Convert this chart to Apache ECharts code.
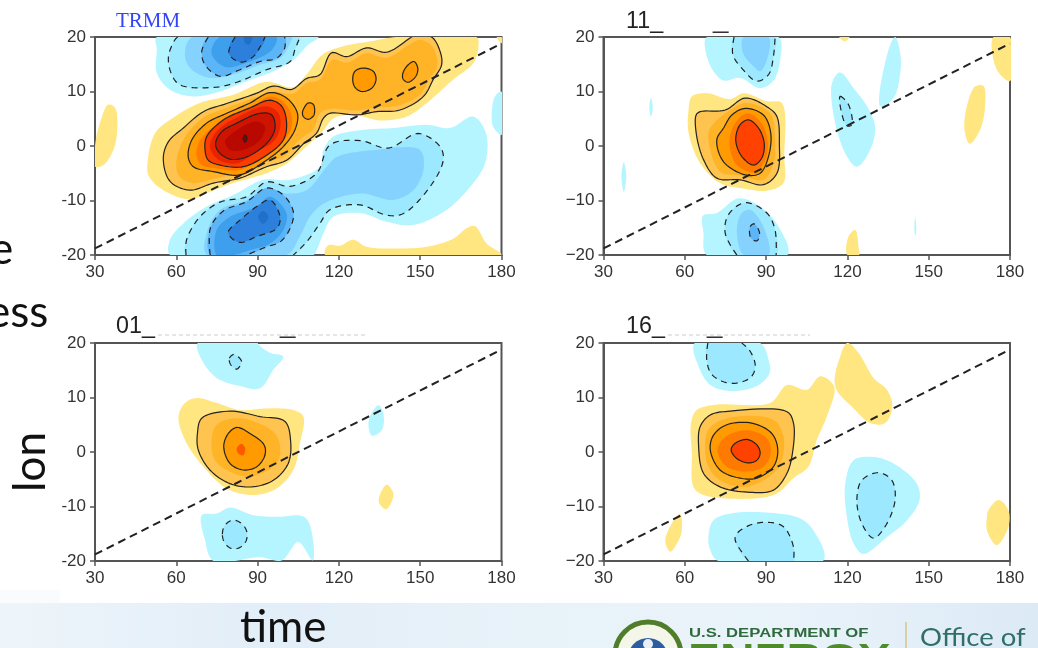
<!DOCTYPE html>
<html><head><meta charset="utf-8">
<style>html,body{margin:0;padding:0;background:#fff}#c{width:1038px;height:648px;filter:blur(0.55px)}</style>
<script src="https://cdn.jsdelivr.net/npm/echarts@6/dist/echarts.min.js"></script></head>
<body><div id="c"></div><script>
const timeTicks=[30,60,90,120,150,180];
const lonTicks=[-20,-10,0,10,20];
const refLine=[[30,-18.8],[180,18.8]];

// ---- TRMM contours, [time, lon]
const a_y1=[[49.3,-4.4],[52.1,2.3],[59.5,5.4],[68.7,7.9],[81,9.4],[93.3,11.8],[103,10.8],[108,13.1],[114,16.8],[121.6,18.3],[131.5,19.2],[141.3,20],[170.8,20],[171.5,18.3],[169.6,15.2],[162.2,12.2],[152.4,7.9],[145,5.4],[135.2,4.7],[125.3,5.7],[118,5.1],[114.3,2.9],[108,-0.1],[100.7,-3.2],[93.3,-5],[81,-6.8],[72.4,-8.4],[65,-9.8],[55.2,-8.1],[50.3,-5.9]];
const a_y2=[[30,0],[31.8,4.2],[34.9,7.6],[37.4,7],[38.2,2.9],[36.8,-0.7],[33.1,-3.5],[30,-3.8]];
const a_y3=[[114.9,-20],[116.1,-18.2],[120.4,-18.3],[125.3,-17.2],[130.2,-18.5],[140,-18.8],[152.4,-18.5],[162.2,-17],[167.1,-15.1],[170.2,-14.7],[174.5,-17.9],[180,-20]];
const a_y4=[[178.2,20],[180,20],[180,18.8]];
const a_c1=[[55.2,-2.3],[57.1,0.8],[62.6,3.3],[70,6.3],[78.6,7.8],[89.7,9.7],[95.8,11],[102.6,10.4],[108.1,12.4],[113,13.1],[117.3,17.1],[122.9,16.4],[130.2,18],[137.6,17.2],[146.2,19.8],[148,20.3],[154.2,20],[157.3,17.4],[157.9,14.9],[154.8,12.2],[151.2,9.1],[142.5,6.6],[133.9,6.3],[126.6,5.7],[116.7,6],[114.3,5.1],[111.8,2.4],[106.9,0.4],[100.7,-2.6],[93.3,-3.8],[83.5,-5.9],[73.7,-6.8],[65,-8.1],[57.7,-6.5]];
const a_g=[[60,-3],[63,1.5],[70,5.2],[78.6,7],[89.7,9],[96,10],[103,9.6],[108,11.5],[113,12.2],[117.5,15.8],[123,15.3],[130,17],[137.6,16.2],[146,18.6],[150,19.5],[154,18.5],[156,16.5],[156.2,14.5],[153,12],[150,9.5],[142,7.4],[134,7.1],[126.6,6.5],[117,6.8],[113,6],[110.5,3],[105.5,1.2],[100,-1.8],[93,-3],[83,-5],[74,-6],[66,-6.8],[61,-5.5]];
const a_c2=[[64.4,-2],[65.7,1.1],[71.2,4.2],[78.6,6],[87.2,7.9],[94.6,9.8],[100.7,8.8],[104.7,6],[103.8,3],[99.5,-0.1],[93.3,-2.6],[83.5,-5.3],[73.7,-4.7],[66.3,-3.8]];
const a_l4=[[67.5,-1.9],[68.5,0.8],[73.1,3.3],[79.8,5.4],[88.4,7.4],[94.6,9.1],[99.7,8],[102.6,5.4],[102,2.7],[97.7,0.2],[92.1,-1.9],[83.5,-4.4],[74.9,-4.1],[69.4,-3.5]];
const a_c3=[[70.6,-0.7],[71.2,1.7],[77.4,4.8],[87.2,7],[94.6,8.4],[98.9,7.3],[100.7,4.2],[99.5,1.1],[93.3,-1.7],[84.7,-3.8],[76.1,-3.5],[71.8,-2.6]];
const a_l7=[[72.4,-0.1],[74.9,2.7],[84.1,5.7],[93.3,7.3],[97.7,6],[98.3,3.3],[95.8,0.8],[89.7,-1],[82.3,-3.2],[75.5,-2.5]];
const a_c4=[[74.5,0.5],[76.7,2.6],[82.3,4.2],[90.9,6],[95.2,5.7],[96.4,3.2],[93.4,0.5],[86,-2],[79.8,-2.4],[75.5,-1]];
const a_i4=[[78,0.8],[82.3,2.9],[89.7,4.5],[92.7,3.5],[90.9,1.1],[84.7,-0.7],[79.8,-0.7]];
const a_c5=[[84.7,1.4],[85.4,2],[86.1,1.4],[85.4,0.7]];
const a_s1=[[106.6,6.3],[108.7,7.9],[110.6,7.6],[110.8,5.7],[108.7,4.9],[106.9,5.4]];
const a_s2=[[125.1,12.2],[125.9,13.7],[129,14.3],[132.7,13.7],[133.7,12.2],[132.1,10.6],[128.4,10],[125.9,10.8]];
const a_s3=[[143.5,13.1],[145,14.6],[147.7,15.5],[149.1,14.3],[148.4,12.8],[145.6,11.7],[143.8,12.2]];
const a_n1=[[52.8,20],[52.8,17.7],[52.8,13.4],[57.7,10.3],[66.3,9.1],[76.1,10],[85.9,11.9],[95.8,13.7],[103.2,15.8],[108.7,18.6],[112.4,20]];
const a_n2=[[60.5,20],[59.5,19.5],[57.1,16.4],[58.3,13.1],[61.4,11.2],[74.9,10.8],[83.5,11.9],[93.3,14],[102,15.5],[103.8,17.7],[105.6,20]];
const a_n3=[[65.7,20],[63.2,16.4],[65.7,14],[72.4,12.5],[81,13.1],[90.9,14.9],[98.3,16.1],[102,18.9],[102.6,20]];
const a_n4=[[71.8,20],[69.4,17.4],[70.6,14.9],[76.1,12.8],[83.5,14],[90.9,15.5],[97,16.1],[100,18],[100,20]];
const a_n5=[[76,20],[73,17],[78,14.5],[86,15.3],[95,17.5],[97,20]];
const a_n6=[[81.7,20],[79.4,17],[83.5,15.4],[88.4,16.4],[92.7,20]];
const a_n7=[[85,20],[85.5,18.8],[86.8,18.6],[88,20]];
const a_b1=[[57.7,-20],[57.7,-17.2],[62.6,-14.2],[71.2,-11.1],[81,-9],[92.1,-6.2],[102,-6.2],[113,-3.8],[114.3,-0.7],[117.9,1.7],[127.8,2.9],[140.1,3.3],[152.4,3.9],[161,3.3],[169.6,5.4],[174.3,2.3],[173.9,-3.2],[168.4,-7.5],[159.8,-11.7],[147.5,-14.5],[137.6,-13.9],[127.8,-12.3],[117.9,-13],[114.3,-16],[111.8,-19.1],[110.6,-20]];
const a_b2=[[63.6,-20],[63.8,-17.2],[68.7,-13],[76.1,-10.3],[86,-9.3],[93.3,-6.6],[102,-7.4],[111.8,-5],[116.7,0.2],[127.8,1],[138.2,-0.4],[149.3,2.3],[157.3,-0.1],[158.5,-2.6],[153.6,-7.5],[143.8,-12.4],[137.6,-12.7],[127.8,-10.8],[116.7,-11.7],[113,-14.2],[108.1,-17.6],[103.2,-20]];
const a_b3=[[71.2,-20],[71.2,-16],[76.1,-11.7],[86,-9.9],[93.3,-7.8],[100.7,-8.7],[108.1,-8.1],[115.5,-3.8],[119.2,-2],[133.9,-0.7],[149.9,-0.7],[151.2,-4.4],[147.5,-8.1],[140.1,-9.9],[127.8,-8.7],[114.3,-10.6],[109.3,-13],[105.6,-16.6],[100.7,-20]];
const a_b4=[[72.5,-20],[72.6,-15],[77.4,-11.9],[86,-10.2],[93.3,-7.7],[99.5,-9],[103.2,-12.1],[102,-15.1],[98.3,-17.6],[93.3,-18.5],[86,-20]];
const a_b5=[[74.9,-20],[74.9,-15.4],[79.8,-13],[89.7,-11.1],[94.6,-9.3],[100.7,-12.4],[99.5,-15.4],[94.6,-17.9],[87.2,-19.1],[81,-20]];
const a_b6=[[79.2,-15.7],[83.5,-13.6],[89.7,-11.1],[94.6,-9.9],[98.3,-13],[97.1,-15.1],[89.7,-16.6],[83.5,-17.7],[79.8,-16.6]];
const a_b7=[[90.2,-13],[92,-11.9],[94,-13],[92,-14.3]];
const a_r1=[[180,10],[177.6,9.1],[176.4,6],[176.9,3.6],[180,2]];

// ---- panel 11_
const b_t1=[[68.1,20],[67.8,17.1],[70.6,13.7],[74.3,12],[80.4,12.5],[87.8,10.6],[92.7,12],[95.2,15.8],[94.6,20]];
const b_t2=[[78.2,20],[77.7,16.8],[81,14.3],[86.6,11.9],[90.9,13.1],[92.7,16.4],[93.3,20]];
const b_t3=[[81.7,20],[81.4,17.1],[85.4,14.6],[87.8,13.7],[90.3,15.8],[90.9,20]];
const b_q1=[[47.5,8.8],[48.2,7],[47.5,5.4],[46.9,7]];
const b_q2=[[37.5,-3],[38.4,-5.5],[37.5,-8.4],[36.6,-5.5]];
const b_q3=[[145,-13],[145.4,-15.5],[145,-16.5],[144.7,-15]];
const b_m1=[[114.3,11.5],[117.3,13.5],[122.3,10.6],[127.2,7.3],[130.2,3.6],[128.4,-0.7],[123.5,-3.8],[119.8,-1.9],[115.5,4.2]];
const b_m2=[[137.6,20],[135.2,17.7],[132.1,7.3],[137,8.8],[139.5,13.4],[139.5,17]];
const b_m3=[[117.3,9.1],[120.4,7.6],[121.6,3.9],[119.8,3.7],[117.9,6]];
const b_y1=[[117,20],[119,19.2],[120.8,20]];
const b_y2=[[173.9,20],[173.9,15.8],[176.4,13.1],[180,11.9],[180,20]];
const b_y3=[[167.1,10.9],[170.2,11],[170.8,7.3],[169,3],[165.1,0.4],[163.2,3],[164.1,7.3]];
const b_y4=[[120,-20],[120.4,-16.6],[122.9,-15.4],[124.1,-18.5],[124.3,-20]];
const b_y5=[[61.4,6.7],[62.6,9.1],[68.1,9.7],[76.7,8.6],[81.7,9.7],[90.3,8.2],[95.8,7.9],[96.7,-1.9],[96.4,-6.8],[90.3,-8.2],[82.9,-7.9],[73,-6.8],[65.7,-3.2],[61.4,2.4]];
const b_c1=[[64.2,5.7],[65.7,6.3],[74.9,6.6],[82.3,8.8],[90.9,7],[94,5.4],[94.9,0.5],[94,-5],[89,-7.1],[80.4,-6.2],[71.8,-5.9],[66.9,-2.5],[64.2,2.4]];
const b_l1=[[68.7,1.1],[69.4,3.3],[76.7,6.6],[82.9,7.9],[91.5,6],[93.3,1.1],[92.7,-3.2],[89,-6.2],[80.4,-5.4],[73,-4.7]];
const b_c2=[[71.8,1.1],[74.3,3.3],[77.4,5.7],[82.3,6.9],[89,5.7],[91.7,2.4],[90.9,-1.9],[87.8,-5],[82.3,-5.3],[74.3,-2.9]];
const b_l2=[[76.5,0.5],[78.2,3.9],[82.9,6],[87.8,4.5],[90.5,1.1],[89.7,-2.5],[85.9,-4.8],[79.2,-3.5]];
const b_c3=[[78.8,1.1],[80.4,3.9],[83.5,4.8],[87.2,3.3],[89.3,0.5],[88.4,-2.2],[85.4,-3.5],[81,-1.9]];
const b_n1=[[66.7,-12.8],[71.8,-12.3],[79.8,-9.6],[87.8,-11.1],[94.6,-14.8],[97.9,-20],[68.1,-20],[66.9,-16]];
const b_n2=[[79.2,-20],[74.9,-16],[76.1,-12.6],[82.3,-10.4],[90.3,-12.3],[93.3,-15.4],[93.7,-20]];
const b_n3=[[79.2,-15.4],[81,-12.3],[84.1,-11.7],[89,-14.8],[90.9,-20],[81.7,-20]];
const b_n4=[[84.1,-14.8],[85.6,-14.3],[87.6,-16],[86.6,-17.4],[84.4,-16.9]];

// ---- panel 01_
const c_t1=[[67.9,20],[69.4,16.9],[74.9,13.6],[83.5,12.1],[90.9,11.7],[95.8,15.1],[99.5,17.5],[94.6,18.2],[90.3,19.7],[90,20]];
const c_t2=[[79.6,17.2],[81.3,17.9],[84.1,16.6],[82.3,15.2],[80.1,16]];
const c_y1=[[60.8,6.5],[63.2,9],[67.5,9.9],[74.9,9],[83.5,7.7],[93.3,8],[103.2,7.7],[106.9,6.5],[105.6,1.6],[103.2,-3.3],[97,-6.7],[88.4,-7.9],[78.6,-6.7],[70,-2.7],[63.2,2.2]];
const c_c1=[[67.8,3.4],[69.4,6.2],[79.8,7.5],[90.9,6.5],[100.1,5.6],[102.2,1.9],[101.3,-2.1],[95.8,-5.2],[87.8,-6.4],[79.8,-5.8],[72.4,-3.3],[68.1,0.4]];
const c_l1=[[73,1.6],[74.9,5],[83.5,6.2],[95.8,3.7],[98.3,1],[97,-2.1],[87.2,-4.5],[78.6,-3.3],[74.3,-1.5]];
const c_c2=[[77.5,1],[79.2,3.4],[82.3,4.5],[87.2,3.4],[92.4,1.3],[92.7,-0.6],[89.7,-2.7],[84.7,-3.3],[79.8,-2.1]];
const c_c3=[[82.3,0.7],[84.1,1.5],[85.4,0.7],[84.7,-0.6],[82.9,-0.3]];
const c_y2=[[134.9,-8.2],[137.6,-6],[140.1,-7.6],[139.5,-9.1],[137.4,-10.5],[134.9,-9.4]];
const c_n1=[[134.6,8.6],[136.4,7.1],[135.8,4],[132.1,3],[130.9,5.3],[132.1,7.1]];
const c_b1=[[69.4,-11.6],[74.9,-11.3],[79.8,-10.2],[88.4,-11.6],[97,-11.9],[107.5,-12],[110.6,-16.8],[110.3,-19.9],[105,-16.5],[98.9,-19.9],[90.9,-19.3],[73.7,-20],[70.6,-16.2]];
const c_b2=[[77,-15.1],[78,-13.4],[81,-12.5],[84.7,-13.4],[86.2,-15.3],[84.7,-17.1],[81,-17.8],[78,-16.8]];

// ---- panel 16_
const d_t1=[[63.6,20],[65.1,15.7],[69.4,12.3],[76.7,11.2],[86.6,12.1],[91.3,14.5],[90.9,16.9],[87.8,20]];
const d_t2=[[68.5,20],[68.1,16.9],[70,14.2],[76.7,12.6],[84.1,13.6],[86,15.7],[84.1,18.5],[81,20]];
const d_y1=[[62.3,5.3],[64.4,7.7],[71.8,8.7],[91.5,9],[97.7,12.3],[105,11.4],[110,13.9],[115.1,12],[112.4,6.5],[108.7,2.2],[105.6,-2.7],[100.1,-4.8],[94,-7.6],[86.6,-8.5],[66.9,-7.9],[63.2,-6.4],[62.6,-0.2]];
const d_y2=[[120,20],[124.1,18.2],[129.6,13.6],[134.6,11.4],[136.6,8.3],[133.9,5.3],[128.4,5.3],[122.3,8],[115.5,12],[117.3,17.5]];
const d_y3=[[56.4,-12.2],[58.3,-11.4],[58.9,-14.4],[57.1,-16.8],[54.6,-18.3],[52.8,-16.2]];
const d_y4=[[172,-10.7],[175.8,-8.8],[179.4,-10.7],[179.4,-13.7],[175.1,-17.1],[171.5,-14.4],[171.5,-11.9]];
const d_c1=[[65.1,1],[65.7,4.7],[69.4,6.8],[76.7,7.5],[97.7,7.4],[100.1,5.3],[99.9,0.4],[97.7,-3.9],[92.7,-7],[84.1,-7.4],[73,-6.4],[66.9,-3.9]];
const d_l1=[[67.5,0.4],[68.7,4.1],[75.5,6.2],[92.7,5.9],[96.4,2.8],[95.8,-1.5],[92.7,-3.9],[82.9,-6.4],[73,-5.2],[68.7,-2.7]];
const d_c2=[[69.4,0.4],[70.6,3.1],[75.5,5],[84.7,5.3],[92.1,3.4],[94.3,0.4],[92.7,-2.7],[86.6,-4.8],[80.4,-4.8],[73,-3.3]];
const d_l2=[[72.1,0.1],[74.3,2.5],[82.9,4],[90.3,2.5],[91.7,-0.2],[89,-2.7],[82.9,-3.6],[75.5,-2.7]];
const d_c3=[[77.1,0.4],[78.6,1.6],[82.9,2.3],[86.6,1.3],[87.8,-0.2],[86.6,-1.5],[83.5,-2],[79.2,-1.2]];
const d_b1=[[68.7,-15.6],[70.6,-12.5],[78,-11.2],[92.7,-11.2],[102.6,-12.2],[107.5,-14.4],[111.2,-19.9],[72.4,-20],[69.4,-18]];
const d_b2=[[83.5,-20],[78.6,-16.2],[79.2,-15],[84.1,-13.4],[90.3,-12.9],[96.4,-13.7],[100.1,-17.4],[100.1,-20]];
const d_e1=[[119.2,-5.8],[122.3,-1.5],[129.6,-0.9],[137,-2.1],[145.6,-5.8],[146.6,-8.8],[141.9,-12.6],[134.6,-15.6],[125.9,-18.7],[122.3,-16.8],[119.8,-11.9]];
const d_e2=[[123.5,-8.8],[125.3,-5.2],[131.5,-3.8],[136.4,-5.2],[137.6,-8.8],[133.9,-13.7],[129.6,-15.8],[125.3,-13.1]];

// colour shades
const Y='#FFE680',G1='#FFC44F',G2='#FFB326',O1='#FF9A00',O2='#FF7A00',O3='#FF4200',R1='#FA3C00',R2='#E82400',R3='#CC1400',R4='#B80800';
const C1='#B4F5FF',C2='#9CE9FF',C3='#86D2FF',B1='#5CB5F7',B2='#3E9FEC',B3='#2C80DC',B4='#206FC8';
const K='#222';
// [points, fill] layers; [points, 'solid'|'dash', open]
const panels=[
 {fills:[[a_y1,Y],[a_y2,Y],[a_y3,Y],[a_y4,Y],[a_c1,G1],[a_g,G2],[a_s1,O1],[a_s2,O1],[a_s3,O1],[a_c2,O1],[a_l4,O2],[a_c3,R1],[a_l7,R2],[a_c4,R3],[a_i4,R4],[a_c5,'#8E0000'],
   [a_n1,C1],[a_n2,C2],[a_n3,C3],[a_n4,B1],[a_n5,B2],[a_n6,B3],[a_n7,B4],[a_b1,C1],[a_b2,C2],[a_b3,C3],[a_b4,B1],[a_b5,B2],[a_b6,B3],[a_b7,B4],[a_r1,C1]],
  lines:[[a_c1,'solid'],[a_c2,'solid'],[a_c3,'solid'],[a_c4,'solid'],[a_c5,'solid'],[a_s1,'solid'],[a_s2,'solid'],[a_s3,'solid'],
   [a_n2,'dash',1],[a_n4,'dash',1],[a_n6,'dash',1],[a_b2,'dash',1],[a_b4,'dash',1],[a_b6,'dash']]},
 {fills:[[b_y1,Y],[b_y2,Y],[b_y3,Y],[b_y4,Y],[b_y5,Y],[b_c1,G1],[b_l1,G2],[b_c2,O1],[b_l2,O2],[b_c3,O3],
   [b_t1,C1],[b_t2,C2],[b_t3,C3],[b_q1,C1],[b_q2,C1],[b_q3,C1],[b_m1,C1],[b_m2,C1],[b_m3,C2],[b_n1,C1],[b_n2,C2],[b_n3,C3],[b_n4,B1]],
  lines:[[b_c1,'solid'],[b_c2,'solid'],[b_c3,'solid'],[b_t2,'dash',1],[b_m3,'dash'],[b_n2,'dash',1],[b_n4,'dash']]},
 {fills:[[c_y1,Y],[c_y2,Y],[c_c1,G1],[c_l1,G2],[c_c2,O1],[c_c3,'#FF5A00'],[c_t1,C1],[c_t2,C2],[c_n1,C1],[c_b1,C1],[c_b2,C2]],
  lines:[[c_c1,'solid'],[c_c2,'solid'],[c_t2,'dash'],[c_b2,'dash']]},
 {fills:[[d_y1,Y],[d_y2,Y],[d_y3,Y],[d_y4,Y],[d_c1,G1],[d_l1,G2],[d_c2,O1],[d_l2,O2],[d_c3,O3],[d_t1,C1],[d_t2,C2],[d_b1,C1],[d_b2,C2],[d_e1,C1],[d_e2,C2]],
  lines:[[d_c1,'solid'],[d_c2,'solid'],[d_c3,'solid'],[d_t2,'dash',1],[d_b2,'dash',1],[d_e2,'dash']]}
];
const frames=[[95,37],[603.5,37],[95,343],[603.5,343]];
const W=406.5,H=218;
const axLabel={color:'#333',fontSize:17,fontFamily:'Liberation Sans'};
// Centripetal Catmull-Rom curve through the projected contour vertices (drawing only).
function curve(P,closed){
  const n=P.length,out=[];
  const at=i=>closed?P[(i+n)%n]:P[Math.max(0,Math.min(n-1,i))];
  const tj=(t,a,b)=>t+Math.max(1e-3,Math.pow(Math.hypot(b[0]-a[0],b[1]-a[1]),0.5));
  const lerp=(a,b,t0,t1,t)=>{const w=(t-t0)/(t1-t0);return [a[0]+(b[0]-a[0])*w,a[1]+(b[1]-a[1])*w];};
  const segs=closed?n:n-1;
  for(let i=0;i<segs;i++){
    const p0=at(i-1),p1=at(i),p2=at(i+1),p3=at(i+2);
    const t0=0,t1=tj(t0,p0,p1),t2=tj(t1,p1,p2),t3=tj(t2,p2,p3);
    for(let s=0;s<10;s++){
      const t=t1+(t2-t1)*s/10;
      const a1=lerp(p0,p1,t0,t1,t),a2=lerp(p1,p2,t1,t2,t),a3=lerp(p2,p3,t2,t3,t);
      const b1=lerp(a1,a2,t0,t2,t),b2=lerp(a2,a3,t1,t3,t);
      out.push(lerp(b1,b2,t1,t2,t));
    }
  }
  if(!closed)out.push(P[n-1]);
  return out;
}
const grid=[],xAxis=[],yAxis=[],series=[];
panels.forEach((p,i)=>{
  const wideMinus=i%2===1;
  grid.push({left:frames[i][0],top:frames[i][1],width:W,height:H,show:true,borderColor:'#555',borderWidth:2,backgroundColor:'#fff'});
  xAxis.push({gridIndex:i,type:'value',min:timeTicks[0],max:timeTicks[timeTicks.length-1],interval:30,
    axisLine:{show:true,onZero:false,lineStyle:{color:'#555',width:2}},axisTick:{show:true,length:5,lineStyle:{color:'#555',width:1.5}},splitLine:{show:false},
    axisLabel:{...axLabel,margin:9,showMinLabel:true,showMaxLabel:true,hideOverlap:false}});
  yAxis.push({gridIndex:i,type:'value',min:lonTicks[0],max:lonTicks[lonTicks.length-1],interval:10,
    axisLine:{show:true,onZero:false,lineStyle:{color:'#555',width:2}},axisTick:{show:true,length:5,lineStyle:{color:'#555',width:1.5}},splitLine:{show:false},
    axisLabel:{...axLabel,margin:9,showMinLabel:true,showMaxLabel:true,hideOverlap:false,
      formatter:v=>wideMinus?String(v).replace('-','\u2212'):String(v)}});
  const mk=(list,kind)=>({type:'custom',coordinateSystem:'cartesian2d',xAxisIndex:i,yAxisIndex:i,clip:true,silent:true,z:kind==='fill'?2:3,
    data:list.map((_,k)=>[k]),encode:{x:-1,y:-1},
    renderItem:(params,api)=>{
      const d=list[params.dataIndex];
      const raw=d[0].map(q=>api.coord(q));
      if(kind==='fill')return {type:'polygon',shape:{points:curve(raw,true)},style:{fill:d[1]},silent:true};
      const st={fill:'none',stroke:K,lineWidth:1.2,lineDash:d[1]==='dash'?[6,5]:null};
      return d[2]?{type:'polyline',shape:{points:curve(raw,false)},style:st,silent:true}
                 :{type:'polygon',shape:{points:curve(raw,true)},style:st,silent:true};
    }});
  series.push(mk(p.fills,'fill'),mk(p.lines,'line'));
  series.push({type:'line',xAxisIndex:i,yAxisIndex:i,data:refLine,showSymbol:false,silent:true,z:4,
    lineStyle:{color:'#222',width:2,type:[8,5]}});
});
const t=(text,x,y,font,fill,extra,el)=>({type:'text',x,y,silent:true,...(el||{}),style:{text,font,fill,textVerticalAlign:'middle',...(extra||{})}});
const graphic=[
 {type:'rect',shape:{x:0,y:603,width:1038,height:45},silent:true,style:{fill:new echarts.graphic.LinearGradient(0,0,1,0,[{offset:0,color:'#EEF5FA'},{offset:.25,color:'#E2EEF8'},{offset:.5,color:'#E8F2F9'},{offset:.75,color:'#EAF3FA'},{offset:1,color:'#DCEAF6'}])}},
 {type:'rect',shape:{x:0,y:590,width:60,height:13},silent:true,style:{fill:'#F9FBFD'}},
 t('e',-10,250,'44px Lato','#111'),
 t('ess',-13,313,'44px Lato','#111'),
 t('lon',31,462,'44px Lato','#111',{textAlign:'center'},{rotation:Math.PI/2}),
 t('time',240,628,'44px Lato','#111'),
 t('TRMM',116,21,'21px Liberation Serif','#3346F5'),
 t('11_',626,21,'24px Liberation Sans','#222',null,{scaleX:0.97}),
 t('_',713,21,'24px Liberation Sans','#333',null,{scaleX:1.15}),
 t('01_',116,326,'24px Liberation Sans','#222',null,{scaleX:0.97}),
 t('_',280,326,'24px Liberation Sans','#333',null,{scaleX:1.15}),
 t('16_',626,326,'24px Liberation Sans','#222',null,{scaleX:0.97}),
 t('_',707,326,'24px Liberation Sans','#333',null,{scaleX:1.15}),
 {type:'line',silent:true,shape:{x1:158,y1:335,x2:367,y2:335},style:{stroke:'#ccc',lineWidth:1,lineDash:[4,3]}},
 {type:'line',silent:true,shape:{x1:668,y1:335,x2:810,y2:335},style:{stroke:'#ccc',lineWidth:1,lineDash:[4,3]}},
 {type:'circle',silent:true,shape:{cx:648,cy:655,r:33},style:{fill:'#F3F6E8',stroke:'#4F7D2A',lineWidth:5}},
 {type:'circle',silent:true,shape:{cx:648,cy:658,r:20},style:{fill:'#2C5E9E'}},
 {type:'circle',silent:true,shape:{cx:648,cy:644,r:5},style:{fill:'#E8EEF4'}},
 t('U.S. DEPARTMENT OF',689,634,'bold 12px Liberation Sans','#2F6B3E',null,{scaleX:1.39}),
 t('ENERGY',688,660,'bold 36px Liberation Sans','#4E8B2C',null,{scaleX:1.33}),
 {type:'line',silent:true,shape:{x1:906,y1:622,x2:906,y2:648},style:{stroke:'#D9C48A',lineWidth:1.5}},
 t('Office of',920,638,'25px Lato','#2F6F66',null,{scaleX:1.1})
];
const chart=echarts.init(document.getElementById('c'),null,{renderer:'canvas'});
chart.setOption({animation:false,backgroundColor:'#fff',grid,xAxis,yAxis,series,graphic:{elements:graphic}});
</script></body></html>
